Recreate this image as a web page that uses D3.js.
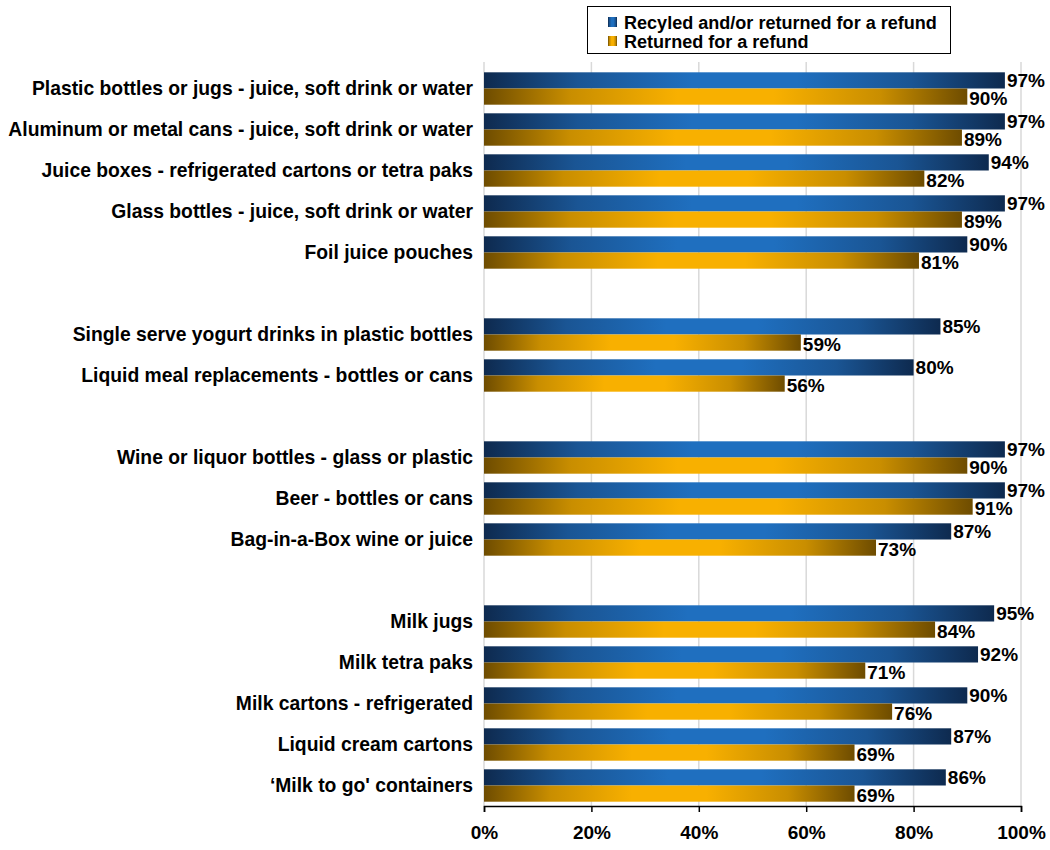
<!DOCTYPE html>
<html><head><meta charset="utf-8">
<script src="https://cdn.jsdelivr.net/npm/d3@7"></script>
<style>
body{margin:0;background:#fff;}
svg text{font-family:"Liberation Sans",Arial,sans-serif;font-weight:bold;fill:#000;}
</style></head>
<body><svg id="chart" width="1050" height="850"></svg>
<script>
const categories = [
  "Plastic bottles or jugs - juice, soft drink or water",
  "Aluminum or metal cans - juice, soft drink or water",
  "Juice boxes - refrigerated cartons or tetra paks",
  "Glass bottles - juice, soft drink or water",
  "Foil juice pouches",
  "",
  "Single serve yogurt drinks in plastic bottles",
  "Liquid meal replacements - bottles or cans",
  "",
  "Wine or liquor bottles - glass or plastic",
  "Beer - bottles or cans",
  "Bag-in-a-Box wine or juice",
  "",
  "Milk jugs",
  "Milk tetra paks",
  "Milk cartons - refrigerated",
  "Liquid cream cartons",
  "\u2018Milk to go' containers"
];
const recycled = [97,97,94,97,90,null,85,80,null,97,97,87,null,95,92,90,87,86];
const refund   = [90,89,82,89,81,null,59,56,null,90,91,73,null,84,71,76,69,69];
const seriesNames = ["Recyled and/or returned for a refund","Returned for a refund"];
const xTicks = [0,20,40,60,80,100];

const svg = d3.select("#chart");
const pLeft = 484, pRight = 1021, gridTop = 62, pTop = 68, pBottom = 806;
const idx = categories.map((c,i)=>i);
const x = d3.scaleLinear().domain([0,100]).range([pLeft,pRight]);
const y = d3.scaleBand().domain(idx).range([pTop,pBottom]).paddingInner(0.21).paddingOuter(0.105);
const sub = d3.scaleBand().domain([0,1]).range([0,y.bandwidth()]);

// gradients
const defs = svg.append("defs");
function grad(id, stops){
  const g = defs.append("linearGradient").attr("id",id).attr("x1","0").attr("x2","1").attr("y1","0").attr("y2","0");
  stops.forEach(s=>g.append("stop").attr("offset",s[0]).attr("stop-color",s[1]));
}
grad("gBlue",[[0,"#0e2a4f"],[0.18,"#1a5594"],[0.4,"#1f6fbf"],[0.6,"#1f6fbf"],[0.82,"#1a5594"],[1,"#0e2a4f"]]);
grad("gGold",[[0,"#6e4c00"],[0.18,"#c98e00"],[0.4,"#f8b000"],[0.6,"#f8b000"],[0.82,"#c98e00"],[1,"#6e4c00"]]);

// gridlines
svg.append("g").selectAll("line").data(xTicks).join("line")
  .attr("x1",d=>x(d)).attr("x2",d=>x(d)).attr("y1",gridTop).attr("y2",pBottom)
  .attr("stroke","#d9d9d9").attr("stroke-width",1.5);

// bars
const series = [{vals:recycled,fill:"url(#gBlue)"},{vals:refund,fill:"url(#gGold)"}];
series.forEach((s,si)=>{
  const data = idx.filter(i=>s.vals[i]!=null);
  svg.append("g").selectAll("rect").data(data).join("rect")
    .attr("x",x(0)).attr("y",i=>y(i)+sub(si)).attr("width",i=>x(s.vals[i])-x(0)).attr("height",sub.bandwidth())
    .attr("fill",s.fill);
  svg.append("g").selectAll("text").data(data).join("text")
    .attr("x",i=>x(s.vals[i])+2).attr("y",i=>y(i)+sub(si)+sub.bandwidth()/2+(si===0?0:2))
    .attr("dy","0.36em").style("font-size","19px")
    .text(i=>s.vals[i]+"%");
});

// category labels
const catG = svg.append("g");
const labels = catG.selectAll("text").data(idx.filter(i=>categories[i]!=="")).join("text")
  .attr("x",473).attr("y",i=>y(i)+y.bandwidth()/2).attr("dy","0.36em")
  .attr("text-anchor","end").style("font-size","17px").text(i=>categories[i]);
let maxW = 0; labels.each(function(){maxW=Math.max(maxW,this.getComputedTextLength());});
const fs = 17*465/maxW;
labels.style("font-size",fs+"px");

// x axis
const axis = d3.axisBottom(x).tickValues(xTicks).tickFormat(d=>d+"%").tickSize(6).tickPadding(14);
const ax = svg.append("g").attr("transform",`translate(0,${pBottom})`).call(axis);
ax.select(".domain").attr("stroke","#000").attr("stroke-width",1.5);
ax.selectAll(".tick line").attr("stroke","#000").attr("stroke-width",1.5);
ax.selectAll(".tick text").style("font-size","19px").style("font-family","'Liberation Sans',Arial,sans-serif").style("font-weight","bold").attr("fill","#000");

// legend
const lg = svg.append("g");
lg.append("rect").attr("x",587.5).attr("y",6.5).attr("width",363).attr("height",47).attr("fill","#fff").attr("stroke","#000").attr("stroke-width",1);
const lgrad = ["url(#gBlue)","url(#gGold)"];
seriesNames.forEach((n,i)=>{
  lg.append("rect").attr("x",608).attr("y",17+i*19).attr("width",9).attr("height",10).attr("fill",lgrad[i]);
  lg.append("text").attr("x",624).attr("y",22+i*19).attr("dy","0.36em").style("font-size",(fs*0.935)+"px").text(n);
});
</script></body></html>
